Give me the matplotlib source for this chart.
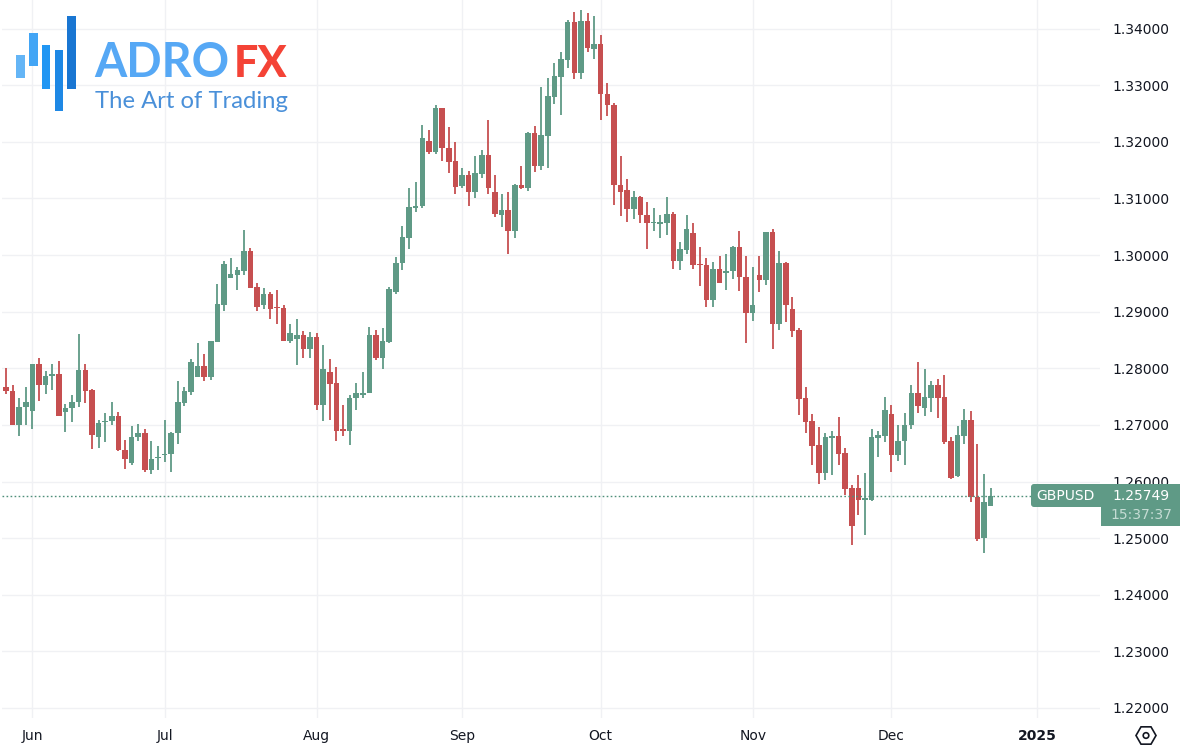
#!/usr/bin/env python3
# -*- coding: utf-8 -*-
"""GBPUSD daily candles, May 2024 - Dec 2024, with the AdroFX logo on top"""
import matplotlib
matplotlib.use("Agg")
import matplotlib.pyplot as plt
import numpy as np
import pandas as pd
from matplotlib.patches import Rectangle, FancyBboxPatch, RegularPolygon, Circle

start_date = "2024-05-28"

opens = [1.2767,1.2760,1.2699,1.2731,1.2725,1.2807,1.2770,1.2786,1.2790,1.2722,
         1.2730,1.2740,1.2797,1.2762,1.2679,1.2705,1.2707,1.2716,1.2656,1.2633,
         1.2678,1.2685,1.2621,1.2641,1.2646,1.2648,1.2685,1.2739,1.2758,1.2785,
         1.2804,1.2785,1.2847,1.2912,1.2960,1.2965,1.2972,1.3008,1.2943,1.2912,
         1.2931,1.2908,1.2907,1.2849,1.2852,1.2859,1.2834,1.2855,1.2735,1.2794,
         1.2774,1.2692,1.2689,1.2748,1.2753,1.2756,1.2859,1.2819,1.2847,1.2935,
         1.2986,1.3031,1.3083,1.3086,1.3201,1.3182,1.3260,1.3190,1.3166,1.3122,
         1.3142,1.3111,1.3143,1.3176,1.3111,1.3071,1.3079,1.3042,1.3123,1.3119,
         1.3216,1.3158,1.3211,1.3280,1.3315,1.3345,1.3412,1.3321,1.3413,1.3364,
         1.3373,1.3285,1.3265,1.3123,1.3115,1.3082,1.3103,1.3071,1.3057,1.3054,
         1.3057,1.3073,1.2989,1.3009,1.3039,1.2985,1.2983,1.2920,1.2975,1.2968,
         1.2971,1.3015,1.2962,1.2898,1.2965,1.2956,1.3041,1.2878,1.2986,1.2904,
         1.2867,1.2748,1.2707,1.2665,1.2615,1.2677,1.2681,1.2651,1.2589,1.2589,
         1.2567,1.2567,1.2677,1.2681,1.2720,1.2647,1.2671,1.2700,1.2757,1.2730,
         1.2748,1.2771,1.2750,1.2672,1.2610,1.2681,1.2709,1.2573,1.2500,1.2557]

highs = [1.2800,1.2771,1.2747,1.2767,1.2808,1.2818,1.2795,1.2808,1.2813,1.2737,
         1.2752,1.2860,1.2807,1.2763,1.2708,1.2721,1.2741,1.2722,1.2674,1.2698,
         1.2701,1.2693,1.2671,1.2662,1.2709,1.2687,1.2777,1.2767,1.2816,1.2845,
         1.2825,1.2848,1.2949,1.2990,1.2995,1.2979,1.3044,1.3012,1.2950,1.2941,
         1.2935,1.2938,1.2912,1.2878,1.2887,1.2865,1.2864,1.2862,1.2841,1.2817,
         1.2802,1.2735,1.2752,1.2774,1.2794,1.2873,1.2868,1.2871,1.2944,1.2997,
         1.3051,1.3119,1.3129,1.3229,1.3221,1.3265,1.3260,1.3226,1.3199,1.3153,
         1.3148,1.3175,1.3185,1.3238,1.3142,1.3108,1.3111,1.3126,1.3158,1.3217,
         1.3228,1.3297,1.3313,1.3339,1.3359,1.3415,1.3429,1.3433,1.3427,1.3422,
         1.3389,1.3304,1.3269,1.3175,1.3134,1.3113,1.3105,1.3094,1.3083,1.3071,
         1.3102,1.3076,1.3023,1.3071,1.3057,1.3015,1.2995,1.2988,1.2998,1.3002,
         1.3016,1.3043,1.2999,1.2979,1.2998,1.3041,1.3046,1.3008,1.2988,1.2926,
         1.2872,1.2767,1.2720,1.2697,1.2686,1.2690,1.2714,1.2660,1.2594,1.2612,
         1.2615,1.2693,1.2690,1.2750,1.2735,1.2700,1.2721,1.2771,1.2811,1.2799,
         1.2778,1.2781,1.2788,1.2679,1.2698,1.2728,1.2725,1.2667,1.2614,1.2589]

lows = [1.2754,1.2699,1.2681,1.2700,1.2693,1.2742,1.2755,1.2762,1.2715,1.2688,
        1.2706,1.2731,1.2738,1.2657,1.2660,1.2669,1.2699,1.2654,1.2622,1.2630,
        1.2671,1.2616,1.2613,1.2620,1.2634,1.2616,1.2667,1.2734,1.2752,1.2785,
        1.2778,1.2779,1.2847,1.2902,1.2960,1.2938,1.2964,1.2941,1.2901,1.2904,
        1.2887,1.2878,1.2849,1.2845,1.2806,1.2819,1.2819,1.2727,1.2707,1.2709,
        1.2672,1.2681,1.2665,1.2727,1.2747,1.2756,1.2814,1.2798,1.2845,1.2931,
        1.2974,1.3011,1.3076,1.3083,1.3179,1.3179,1.3166,1.3145,1.3108,1.3119,
        1.3087,1.3101,1.3136,1.3108,1.3068,1.3049,1.3001,1.3031,1.3116,1.3114,
        1.3146,1.3151,1.3153,1.3267,1.3248,1.3330,1.3311,1.3311,1.3359,1.3346,
        1.3238,1.3246,1.3089,1.3069,1.3059,1.3064,1.3056,1.3011,1.3042,1.3031,
        1.3035,1.2976,1.2973,1.3001,1.2976,1.2945,1.2908,1.2909,1.2951,1.2939,
        1.2957,1.2937,1.2844,1.2884,1.2934,1.2947,1.2834,1.2868,1.2882,1.2855,
        1.2718,1.2686,1.2630,1.2596,1.2603,1.2612,1.2630,1.2577,1.2487,1.2541,
        1.2506,1.2565,1.2644,1.2670,1.2617,1.2637,1.2630,1.2692,1.2721,1.2716,
        1.2723,1.2712,1.2667,1.2605,1.2608,1.2667,1.2563,1.2495,1.2474,1.2556]

closes = [1.2760,1.2699,1.2732,1.2740,1.2808,1.2770,1.2787,1.2790,1.2715,1.2730,
          1.2740,1.2797,1.2760,1.2683,1.2704,1.2707,1.2716,1.2655,1.2640,1.2679,
          1.2685,1.2621,1.2640,1.2644,1.2648,1.2685,1.2740,1.2759,1.2811,1.2804,
          1.2785,1.2848,1.2914,1.2985,1.2966,1.2974,1.3008,1.2942,1.2909,1.2931,
          1.2905,1.2906,1.2849,1.2862,1.2859,1.2834,1.2855,1.2735,1.2799,1.2773,
          1.2690,1.2690,1.2748,1.2757,1.2756,1.2859,1.2819,1.2848,1.2940,1.2986,
          1.3032,1.3085,1.3086,1.3206,1.3182,1.3260,1.3189,1.3165,1.3120,1.3142,
          1.3111,1.3145,1.3176,1.3118,1.3072,1.3079,1.3042,1.3123,1.3119,1.3216,
          1.3158,1.3212,1.3281,1.3316,1.3346,1.3412,1.3321,1.3413,1.3366,1.3373,
          1.3284,1.3265,1.3123,1.3112,1.3082,1.3103,1.3070,1.3057,1.3059,1.3058,
          1.3073,1.2989,1.3011,1.3046,1.2983,1.2983,1.2920,1.2975,1.2951,1.2971,
          1.3015,1.2961,1.2897,1.2912,1.2956,1.3041,1.2878,1.2986,1.2912,1.2866,
          1.2746,1.2705,1.2663,1.2615,1.2678,1.2680,1.2649,1.2587,1.2522,1.2567,
          1.2570,1.2678,1.2682,1.2727,1.2647,1.2672,1.2700,1.2757,1.2734,1.2750,
          1.2771,1.2748,1.2670,1.2607,1.2682,1.2709,1.2572,1.2499,1.2564,1.2575]

price_ticks = [1.22, 1.23, 1.24, 1.25, 1.26, 1.27, 1.28, 1.29, 1.30, 1.31, 1.32, 1.33, 1.34]
time_ticks = ["2024-06-03", "2024-07-01", "2024-08-01", "2024-09-02",
              "2024-10-01", "2024-11-01", "2024-12-02", "2025-01-01"]
time_labels = ["Jun", "Jul", "Aug", "Sep", "Oct", "Nov", "Dec", "2025"]

last_price = 1.25749
symbol = "GBPUSD"
countdown = "15:37:37"

GREEN = "#5f9a86"
RED = "#c64f50"
GRID = "#f0f1f4"
TEXT = "#131722"
FONT = "DejaVu Sans"

W, H = 1184, 756
fig = plt.figure(figsize=(W / 100, H / 100), dpi=100, facecolor="white")

# chart pane covers pixels x 2..1100, y 0..718
ax = fig.add_axes([2 / W, (H - 718) / H, 1098 / W, 718 / H])

o = np.array(opens)
h = np.array(highs)
l = np.array(lows)
c = np.array(closes)
x = np.arange(len(o))
up = c >= o
colors = np.where(up, GREEN, RED)

ax.vlines(x, l, h, colors=colors, linewidth=1.3, zorder=3)
ax.bar(x, np.maximum(np.abs(c - o), 0.00006), bottom=np.minimum(o, c),
       width=0.84, color=colors, linewidth=0, zorder=4)
ax.axhline(last_price, color="#4f8f7a", linewidth=1.0, linestyle=(0, (1.2, 1.7)), zorder=5)

# time axis is trading days, so weekends do not leave holes
days = pd.bdate_range(start_date, periods=170)
tick_pos = [days.get_loc(pd.Timestamp(t)) for t in time_ticks]

ax.set_xlim((2 - 6) / 6.608, (1100 - 6) / 6.608)
ax.set_ylim(1.34 - (718 - 29) / 5658, 1.34 + 28.6 / 5658)
ax.set_xticks(tick_pos)
ax.set_xticklabels(time_labels, fontfamily=FONT, fontsize=10, color=TEXT)
ax.get_xticklabels()[-1].set_fontweight("bold")
ax.yaxis.tick_right()
ax.set_yticks(price_ticks)
ax.set_yticklabels(["%.5f" % p for p in price_ticks], fontfamily=FONT, fontsize=10, color=TEXT)
ax.tick_params(axis="both", length=0)
ax.tick_params(axis="x", pad=8)
ax.tick_params(axis="y", pad=9)
ax.grid(True, color=GRID, linewidth=1.0, zorder=0)
ax.set_axisbelow(True)
for s in ax.spines.values():
    s.set_visible(False)

# overlay in image pixels for the logo, price badges and the settings icon
ov = fig.add_axes([0, 0, 1, 1], facecolor="none")
ov.set_xlim(0, W)
ov.set_ylim(H, 0)
ov.axis("off")

logo_bars = [(16, 55, 9, 23, "#64b5f6"), (29, 33, 9, 33, "#42a5f5"), (42, 45, 8, 44, "#2196f3"),
             (55, 50, 8, 61, "#1e88e5"), (67, 16, 9, 73, "#1976d2")]
for bx, by, bw, bh, col in logo_bars:
    ov.add_patch(Rectangle((bx, by), bw, bh, facecolor=col, linewidth=0))
ov.text(94, 77, "ADRO", family="Lato", fontsize=33.5, fontweight="bold", color="#56a8f5", va="baseline")
ov.text(234, 77, "FX", family="Lato", fontsize=31, fontweight="black", color="#f44336", va="baseline")
ov.text(95, 108, "The Art of Trading", family="Lato", fontsize=17.2, fontweight="normal",
        color="#4a90d9", va="baseline")

# symbol badge and price badge
ov.add_patch(FancyBboxPatch((1034, 487), 70, 17, boxstyle="round,pad=3,rounding_size=3",
                            facecolor=GREEN, linewidth=0))
ov.add_patch(Rectangle((1101, 484), 79, 42, facecolor=GREEN, linewidth=0))
ov.text(1065.5, 496, symbol, family=FONT, fontsize=10, color="white", ha="center", va="center")
ov.text(1141, 496.5, "%.5f" % last_price, family=FONT, fontsize=10, color="white", ha="center", va="center")
ov.text(1141, 515, countdown, family=FONT, fontsize=10, color="#c5dcd4", ha="center", va="center")

# settings icon
ov.add_patch(RegularPolygon((1146, 735.5), 6, radius=10, orientation=np.pi / 6,
                            facecolor="none", edgecolor=TEXT, linewidth=1.2))
ov.add_patch(Circle((1146, 735.5), 2.8, facecolor="none", edgecolor=TEXT, linewidth=1.2))

fig.savefig("out.png", dpi=100, facecolor="white")
